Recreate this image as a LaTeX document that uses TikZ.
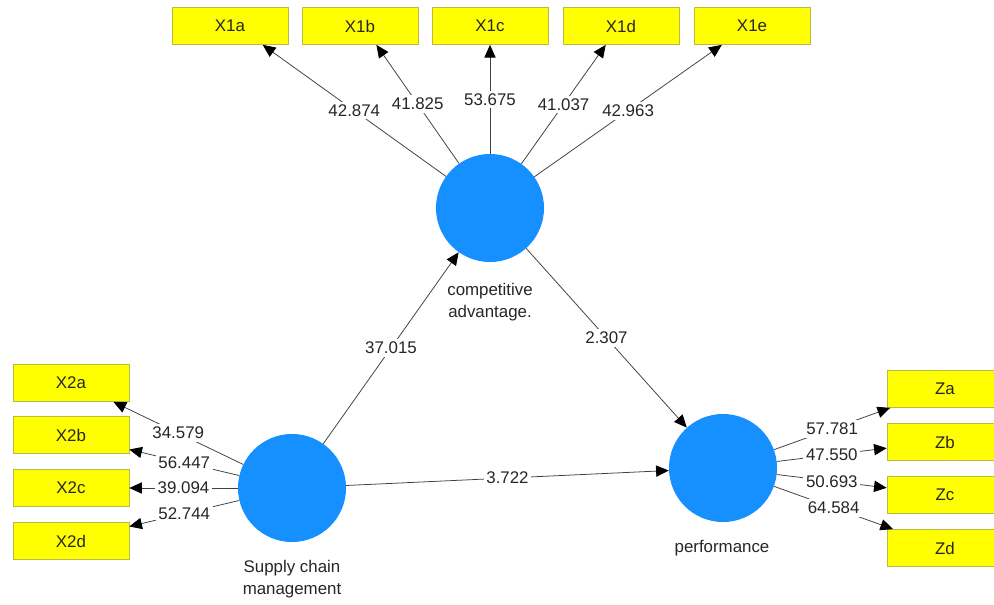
\documentclass[tikz,border=0pt]{standalone}
\usepackage{fontspec}
\setmainfont{Liberation Sans}
\usetikzlibrary{arrows.meta}
\usetikzlibrary{positioning}
\definecolor{lvblue}{RGB}{22,144,255}
\definecolor{mvyellow}{RGB}{255,255,0}
\definecolor{mvframe}{RGB}{185,185,70}

\begin{document}
\begin{tikzpicture}[x=0.025cm,y=-0.025cm,
  every node/.style={font=\fontsize{12}{16}\selectfont,text=black!85},
  latent/.style={circle,fill=lvblue,minimum size=2.7cm,inner sep=0},
  manifest/.style={draw=mvframe,fill=mvyellow,minimum width=2.9cm,minimum height=0.93cm,inner sep=0},
  rel/.style={draw=black!75,line width=0.55pt,-{Triangle[length=9pt,width=8pt,color=black]}},
  coef/.style={fill=white,inner sep=2pt}]

  \useasboundingbox (0,0) rectangle (994,605);

  % latent variables
  \node[latent] (CA) at (490,208) {};
  \node[latent] (SCM) at (292,488) {};
  \node[latent] (PERF) at (723,468) {};
  \node[align=center] (CAtxt) at (490,302) {competitive\\advantage.};
  \node[align=center] (SCMtxt) at (292,579) {Supply chain\\management};
  \node (PERFtxt) at (722,548) {performance};

  % indicators X1
  \node[manifest] (X1a) at (230,26) {X1a};
  \node[manifest] (X1b) at (360,26) {X1b};
  \node[manifest] (X1c) at (490,26) {X1c};
  \node[manifest] (X1d) at (621,26) {X1d};
  \node[manifest] (X1e) at (752,26) {X1e};

  % indicators X2
  \node[manifest] (X2a) at (71,383) {X2a};
  \node[manifest] (X2b) at (71,435) {X2b};
  \node[manifest] (X2c) at (71,488) {X2c};
  \node[manifest] (X2d) at (71,541) {X2d};

  % indicators Z
  \node[manifest] (Za) at (945,389) {Za};
  \node[manifest] (Zb) at (945,442) {Zb};
  \node[manifest] (Zc) at (945,495) {Zc};
  \node[manifest] (Zd) at (945,548) {Zd};

  % outer loadings
  \draw[rel] (CA) -- (X1a.-30) node[coef,midway] {42.874};
  \draw[rel] (CA) -- (X1b.-49) node[coef,midway] {41.825};
  \draw[rel] (CA) -- (X1c.south) node[coef,midway] {53.675};
  \draw[rel] (CA) -- (X1d.-129) node[coef,midway] {41.037};
  \draw[rel] (CA) -- (X1e.-148) node[coef,midway] {42.963};

  \draw[rel] (SCM) -- (X2a.-24) node[coef,midway] {34.579};
  \draw[rel] (SCM) -- (X2b.-14) node[coef,midway] {56.447};
  \draw[rel] (SCM) -- (X2c.east) node[coef,midway] {39.094};
  \draw[rel] (SCM) -- (X2d.14) node[coef,midway] {52.744};

  \draw[rel] (PERF) -- (Za.-161) node[coef,midway] {57.781};
  \draw[rel] (PERF) -- (Zb.-174) node[coef,midway] {47.550};
  \draw[rel] (PERF) -- (Zc.173) node[coef,midway] {50.693};
  \draw[rel] (PERF) -- (Zd.160) node[coef,midway] {64.584};

  % inner model
  \draw[rel] (SCM) -- (CA) node[coef,midway] {37.015};
  \draw[rel] (CA) -- (PERF) node[coef,midway] {2.307};
  \draw[rel] (SCM) -- (PERF) node[coef,midway] {3.722};
\end{tikzpicture}
\end{document}
